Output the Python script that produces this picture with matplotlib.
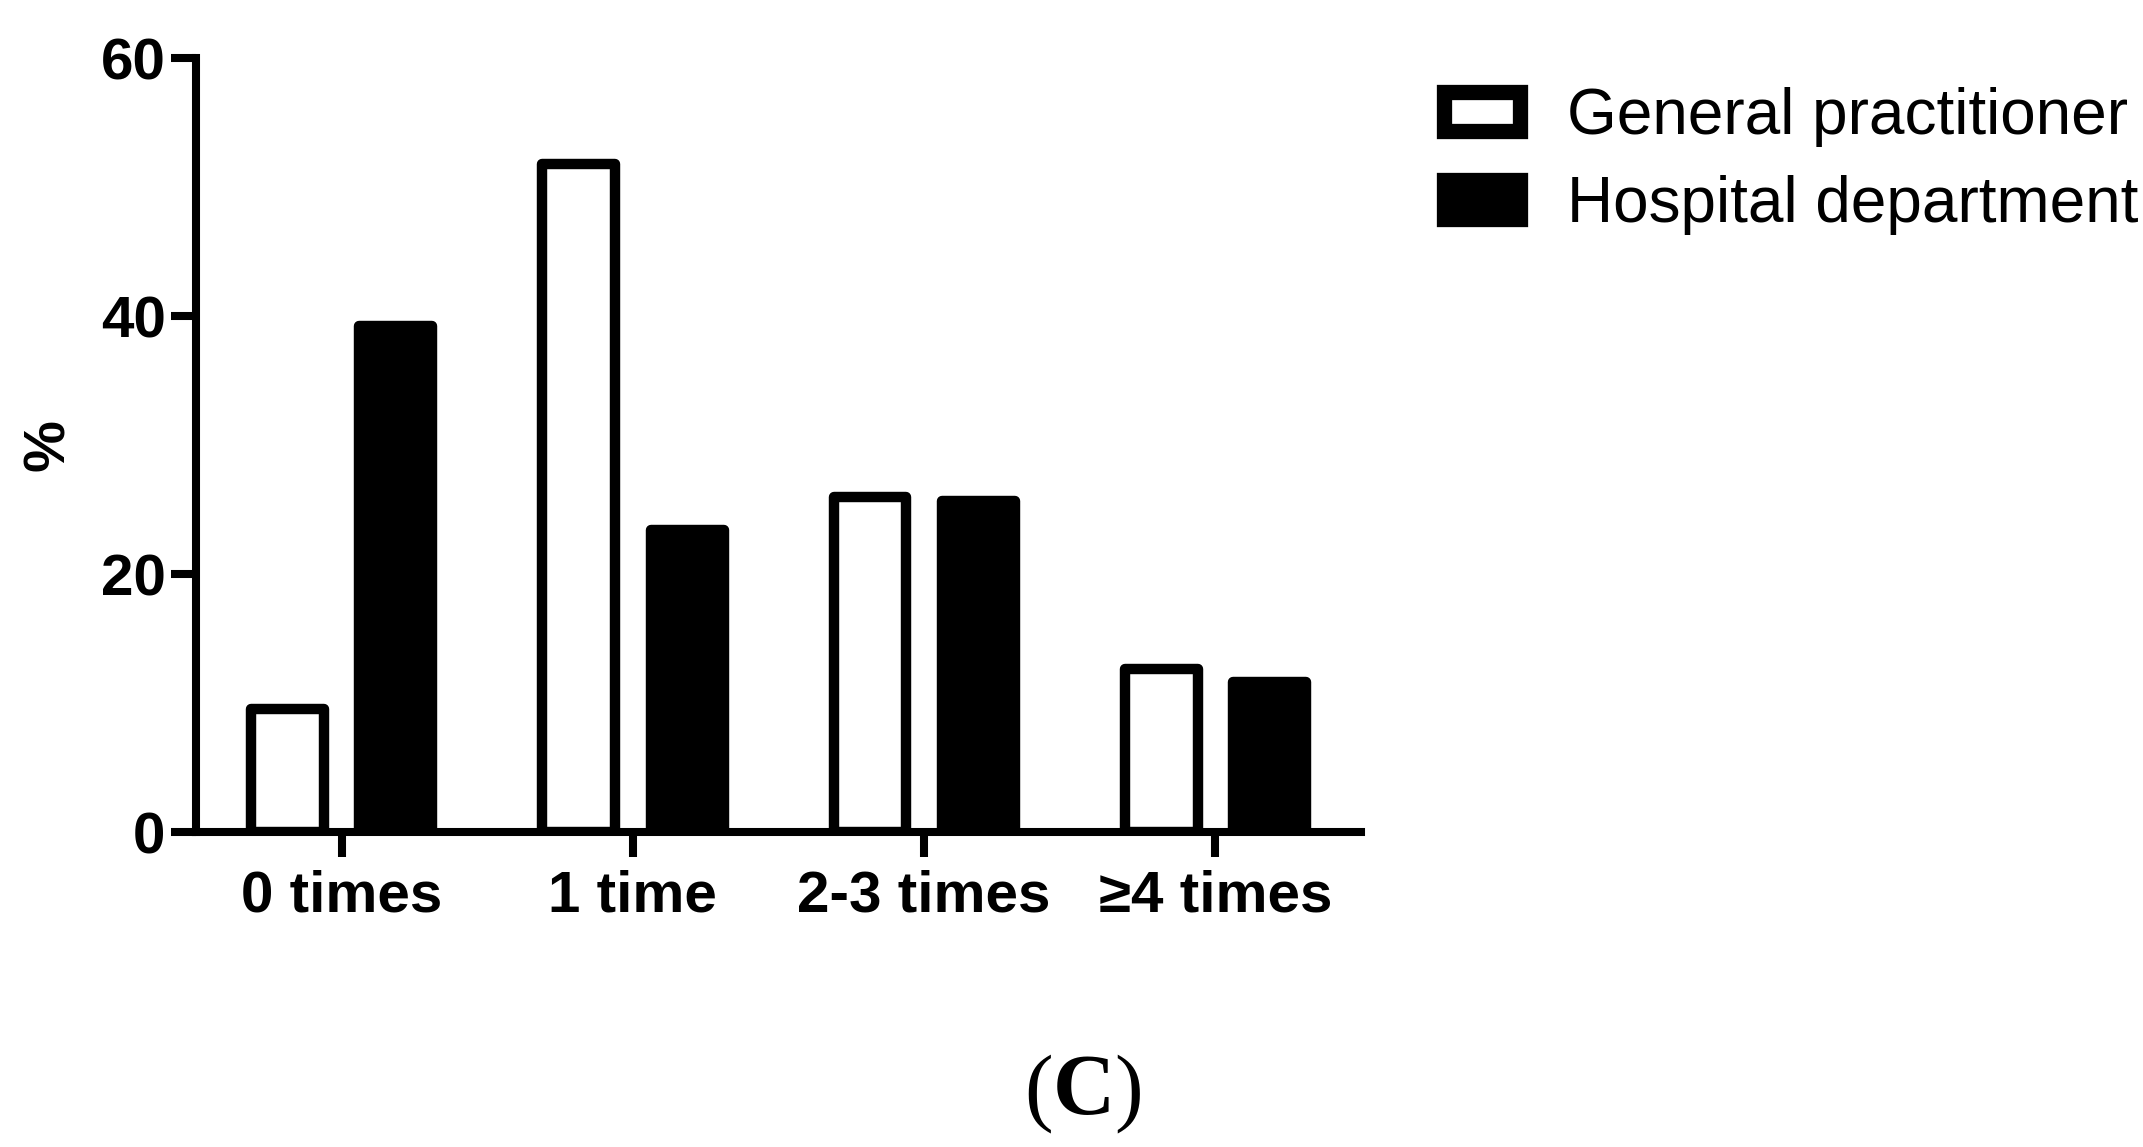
import numpy as np
from matplotlib import pyplot as plt
from matplotlib.patches import Patch

plt.rcParams['font.family'] = ['Liberation Sans', 'DejaVu Sans']

categories = ["0 times", "1 time", "2-3 times", "\u22654 times"]
general_practitioner = [9.5, 51.8, 26.0, 12.6]
hospital_department = [39.2, 23.4, 25.7, 11.6]
series_labels = ["General practitioner", "Hospital department"]
y_ticks = [0, 20, 40, 60]

fig = plt.figure(figsize=(21.43, 11.47), dpi=100)
ax = fig.add_axes([0.0915, 0.2746, 0.5436, 0.6748])

x = np.arange(len(categories))
off = 0.186
w = 0.25
ax.bar(x - off, general_practitioner, width=w, color='white', edgecolor='black',
       linewidth=7.5, joinstyle='round')
ax.bar(x + off, hospital_department, width=w, color='black', edgecolor='black',
       linewidth=7.5, joinstyle='round')

ax.set_xlim(-0.5, 3.5)
ax.set_ylim(0, 60)
ax.set_yticks(y_ticks)
ax.set_xticks(x)
ax.set_xticklabels(categories)
for lbl in ax.get_xticklabels() + ax.get_yticklabels():
    lbl.set_fontweight('bold')
    lbl.set_fontsize(42)

for s in ['top', 'right']:
    ax.spines[s].set_visible(False)
for s in ['left', 'bottom']:
    ax.spines[s].set_linewidth(5.8)
ax.tick_params(axis='both', length=18, width=5.8, direction='out')
ax.tick_params(axis='x', pad=9)
ax.tick_params(axis='y', pad=4)

ax.set_ylabel('%', fontsize=42, fontweight='bold', va='center')
ax.yaxis.set_label_coords(-0.126, 0.5)

handles = [Patch(facecolor='white', edgecolor='black', linewidth=11, joinstyle='round'),
           Patch(facecolor='black', edgecolor='black', linewidth=11, joinstyle='round')]
fig.legend(handles, series_labels, loc='upper left', bbox_to_anchor=(0.6738, 0.924),
           frameon=False, fontsize=46, borderpad=0, borderaxespad=0,
           handlelength=1.19, handleheight=0.56, handletextpad=0.73, labelspacing=0.44)

# panel letter below the chart
base = 1 - 1114 / 1147
fig.text(1084 / 2143, base, 'C', ha='center', va='baseline', fontsize=62,
         fontweight='bold', family='Liberation Serif')
fig.text(1053 / 2143, base, '(', ha='right', va='baseline', fontsize=62,
         family='Liberation Serif')
fig.text(1114 / 2143, base, ')', ha='left', va='baseline', fontsize=62,
         family='Liberation Serif')

plt.savefig('out.png', dpi=100)
